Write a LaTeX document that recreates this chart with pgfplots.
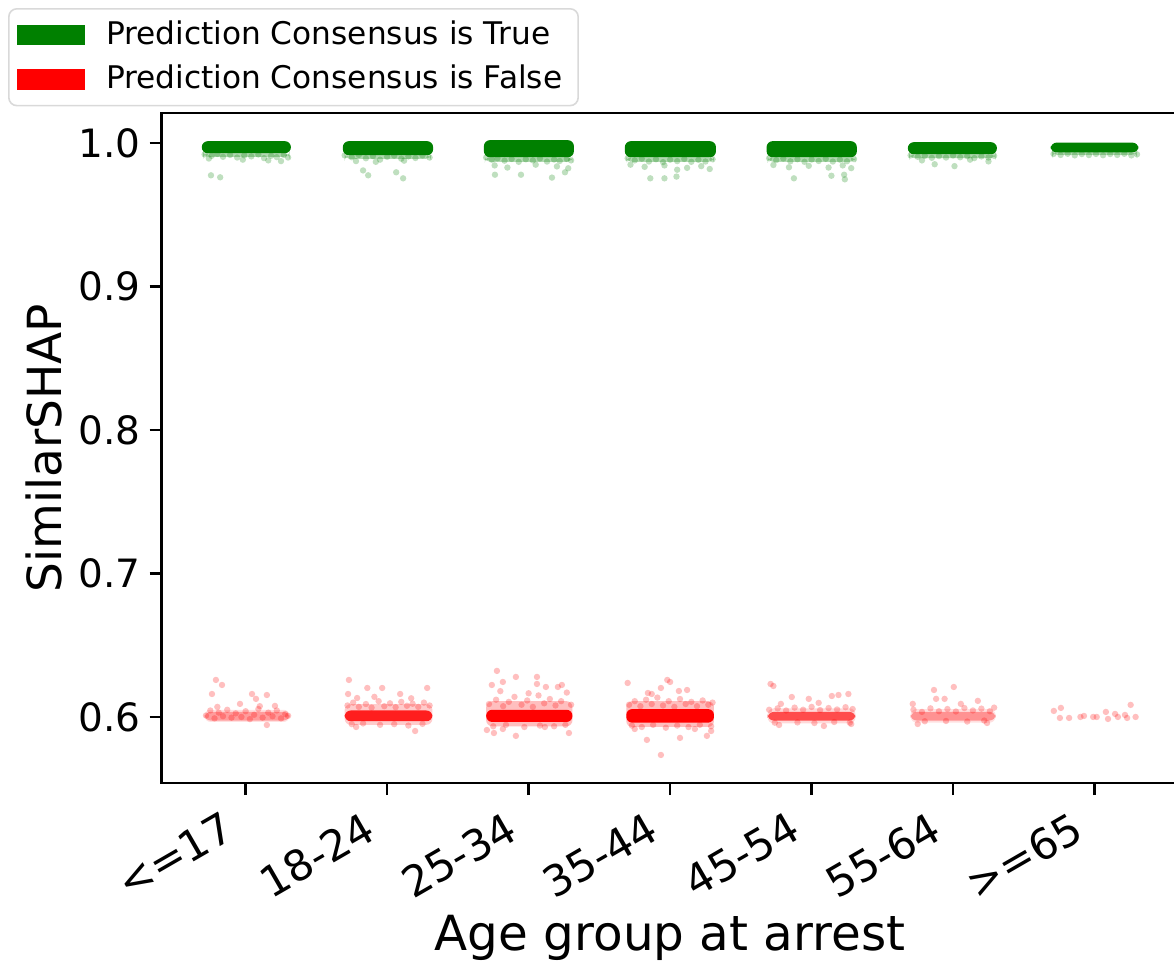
\documentclass[border=0pt]{standalone}
\usepackage{fontspec}
\setmainfont{DejaVu Sans}
\usepackage{pgfplots}
\pgfplotsset{compat=1.18}
\definecolor{mplgreen}{RGB}{0,128,0}
\definecolor{mplred}{RGB}{255,0,0}
\pgfplotsset{
  gscat/.style={only marks, mark=*, mark size=0.8pt, mark options={draw opacity=0, fill=mplgreen, fill opacity=0.25}, forget plot},
  rscat/.style={only marks, mark=*, mark size=0.8pt, mark options={draw opacity=0, fill=mplred, fill opacity=0.25}, forget plot},
  gcore/.style={draw=none, fill=mplgreen, rounded corners=1.5pt, forget plot},
  rcore/.style={draw=none, fill=mplred, rounded corners=1.5pt, forget plot},
}
\begin{document}
\begin{tikzpicture}
\begin{axis}[
  at={(0pt,0pt)}, anchor=south west,
  scale only axis, width=254.25pt, height=167.5pt,
  xmin=-0.594, xmax=6.594, ymin=0.5538, ymax=1.0209,
  xtick={0,1,2,3,4,5,6},
  xticklabels={<=17,18-24,25-34,35-44,45-54,55-64,>=65},
  ytick={0.6,0.7,0.8,0.9,1.0},
  yticklabels={0.6,0.7,0.8,0.9,1.0},
  tick pos=left, tick align=outside, major tick length=3pt,
  every tick/.style={black, line width=0.6pt},
  axis line style={line width=0.6pt},
  xticklabel style={rotate=30, anchor=north east, font=\fontsize{10.6}{11}\selectfont, inner sep=1.5pt, xshift=-5.5pt, yshift=1.5pt},
  yticklabel style={font=\fontsize{9.75}{11}\selectfont, inner sep=2pt},
  xlabel={Age group at arrest},
  ylabel={SimilarSHAP},
  xlabel style={at={(axis description cs:0.5,-0.249)}, anchor=base, font=\fontsize{12.1}{13}\selectfont},
  ylabel style={at={(axis description cs:-0.098,0.5)}, anchor=base, rotate=0, font=\fontsize{11.75}{13}\selectfont},
  legend style={at={(axis description cs:-0.151,1.157)}, anchor=north west,
    draw=black!15, rounded corners=2pt, font=\fontsize{7.8}{9}\selectfont,
    inner xsep=2pt, inner ysep=1pt,
    nodes={text height=6pt, text depth=1.5pt, inner ysep=1.8pt},
    /tikz/every odd column/.append style={column sep=3.3pt}},
  legend cell align=left,
  legend image code/.code={\path[#1, draw=none, sharp corners] (0pt,-2.6pt) rectangle (17pt,2.6pt);},
]
\addlegendimage{fill=mplgreen}
\addlegendentry{Prediction Consensus is True}
\addlegendimage{fill=mplred}
\addlegendentry{Prediction Consensus is False}

% ---------- green cores ----------
\addplot[gcore] coordinates {(-0.31,0.9930) (0.32,0.9930) (0.32,1.0014) (-0.31,1.0014)} -- cycle;
\addplot[gcore] coordinates {(0.687,0.9916) (1.325,0.9916) (1.325,1.0014) (0.687,1.0014)} -- cycle;
\addplot[gcore] coordinates {(1.684,0.9902) (2.32,0.9902) (2.32,1.0021) (1.684,1.0021)} -- cycle;
\addplot[gcore] coordinates {(2.68,0.9902) (3.324,0.9902) (3.324,1.0014) (2.68,1.0014)} -- cycle;
\addplot[gcore] coordinates {(3.682,0.9902) (4.32,0.9902) (4.32,1.0014) (3.682,1.0014)} -- cycle;
\addplot[gcore] coordinates {(4.68,0.9923) (5.31,0.9923) (5.31,1.0007) (4.68,1.0007)} -- cycle;
\addplot[gcore] coordinates {(5.69,0.9935) (6.31,0.9935) (6.31,1.0004) (5.69,1.0004)} -- cycle;
% green translucent under-layer (the thinning edge of each band)
\addplot[gcore, fill opacity=0.3] coordinates {(-0.30,0.9905) (0.31,0.9905) (0.31,0.9932) (-0.30,0.9932)} -- cycle;
\addplot[gcore, fill opacity=0.3] coordinates {(0.70,0.9890) (1.31,0.9890) (1.31,0.9918) (0.70,0.9918)} -- cycle;
\addplot[gcore, fill opacity=0.3] coordinates {(1.69,0.9870) (2.31,0.9870) (2.31,0.9904) (1.69,0.9904)} -- cycle;
\addplot[gcore, fill opacity=0.3] coordinates {(2.69,0.9870) (3.31,0.9870) (3.31,0.9904) (2.69,0.9904)} -- cycle;
\addplot[gcore, fill opacity=0.3] coordinates {(3.69,0.9870) (4.31,0.9870) (4.31,0.9904) (3.69,0.9904)} -- cycle;
\addplot[gcore, fill opacity=0.3] coordinates {(4.69,0.9895) (5.30,0.9895) (5.30,0.9925) (4.69,0.9925)} -- cycle;
\addplot[gcore, fill opacity=0.3] coordinates {(5.70,0.9918) (6.30,0.9918) (6.30,0.9937) (5.70,0.9937)} -- cycle;

% ---------- green scatter ----------
\addplot[gscat] coordinates {
(-0.29,0.9922) (-0.24,0.9912) (-0.2,0.9925) (-0.16,0.9905) (-0.11,0.9918) (-0.06,0.9900) (-0.01,0.9915)
(0.04,0.9908) (0.09,0.9921) (0.13,0.9896) (0.18,0.9912) (0.22,0.9903) (0.27,0.9918) (0.30,0.9900)
(-0.26,0.9893) (-0.02,0.9885) (0.16,0.9880) (0.25,0.9875) (-0.245,0.9776) (-0.18,0.9762)
(0.70,0.9915) (0.75,0.9902) (0.80,0.9918) (0.85,0.9895) (0.90,0.9910) (0.95,0.9885) (1.00,0.9905)
(1.05,0.9913) (1.10,0.9892) (1.15,0.9908) (1.20,0.9897) (1.25,0.9915) (1.30,0.9900) (0.78,0.9875)
(0.92,0.9870) (1.12,0.9878) (0.866,0.9776) (1.064,0.9797) (1.113,0.9755) (0.83,0.9810)
(1.70,0.9900) (1.74,0.9885) (1.78,0.9895) (1.83,0.9878) (1.88,0.9890) (1.93,0.9870) (1.98,0.9888)
(2.03,0.9880) (2.08,0.9893) (2.13,0.9872) (2.18,0.9886) (2.22,0.9876) (2.27,0.9890) (2.30,0.9880)
(1.76,0.9845) (1.85,0.9830) (2.05,0.9850) (2.20,0.9838) (2.28,0.9825) (1.762,0.9780) (1.946,0.9780)
(2.165,0.9760) (2.257,0.9797)
(2.70,0.9895) (2.75,0.9880) (2.80,0.9892) (2.85,0.9872) (2.90,0.9888) (2.95,0.9868) (3.00,0.9885)
(3.05,0.9875) (3.10,0.9890) (3.15,0.9870) (3.20,0.9884) (3.25,0.9872) (3.30,0.9888) (2.72,0.9850)
(2.82,0.9835) (2.96,0.9845) (3.12,0.9828) (3.22,0.9840) (3.28,0.9820) (2.86,0.9755) (2.96,0.9755)
(3.045,0.9767) (3.05,0.9815)
(3.70,0.9895) (3.75,0.9882) (3.80,0.9893) (3.85,0.9874) (3.90,0.9888) (3.95,0.9870) (4.00,0.9886)
(4.05,0.9876) (4.10,0.9891) (4.15,0.9872) (4.20,0.9885) (4.25,0.9874) (4.30,0.9889) (3.73,0.9848)
(3.84,0.9832) (3.98,0.9842) (4.12,0.9830) (4.22,0.9845) (4.28,0.9826) (3.875,0.9755) (4.14,0.9773)
(4.235,0.9748) (4.23,0.9780)
(4.70,0.9915) (4.75,0.9905) (4.80,0.9912) (4.85,0.9898) (4.90,0.9910) (4.95,0.9900) (5.00,0.9914)
(5.05,0.9902) (5.10,0.9910) (5.15,0.9896) (5.20,0.9908) (5.25,0.9900) (5.29,0.9912) (4.87,0.9853)
(5.01,0.9840) (5.25,0.9873) (4.78,0.9880) (5.12,0.9885)
(5.71,0.9925) (5.76,0.9918) (5.81,0.9926) (5.86,0.9915) (5.91,0.9924) (5.96,0.9917) (6.01,0.9925)
(6.06,0.9916) (6.11,0.9924) (6.16,0.9918) (6.21,0.9926) (6.26,0.9915) (6.30,0.9922)
};

% ---------- red halos and cores ----------
\addplot[rcore, fill opacity=0.12] coordinates {(-0.29,0.5965) (0.31,0.5965) (0.31,0.6050) (-0.29,0.6050)} -- cycle;
\addplot[rcore, fill opacity=0.2] coordinates {(0.70,0.5945) (1.32,0.5945) (1.32,0.6090) (0.70,0.6090)} -- cycle;
\addplot[rcore, fill opacity=0.25] coordinates {(1.70,0.5935) (2.31,0.5935) (2.31,0.6110) (1.70,0.6110)} -- cycle;
\addplot[rcore, fill opacity=0.25] coordinates {(2.69,0.5930) (3.31,0.5930) (3.31,0.6110) (2.69,0.6110)} -- cycle;
\addplot[rcore, fill opacity=0.15] coordinates {(3.69,0.5955) (4.31,0.5955) (4.31,0.6060) (3.69,0.6060)} -- cycle;
\addplot[rcore, fill opacity=0.12] coordinates {(4.70,0.5960) (5.30,0.5960) (5.30,0.6055) (4.70,0.6055)} -- cycle;
\addplot[rcore, fill opacity=0.3] coordinates {(-0.29,0.5975) (0.31,0.5975) (0.31,0.6035) (-0.29,0.6035)} -- cycle;
\addplot[rcore, fill opacity=0.85] coordinates {(0.70,0.5970) (1.32,0.5970) (1.32,0.6045) (0.70,0.6045)} -- cycle;
\addplot[rcore, fill opacity=1] coordinates {(1.70,0.5965) (2.31,0.5965) (2.31,0.6050) (1.70,0.6050)} -- cycle;
\addplot[rcore, fill opacity=1] coordinates {(2.69,0.5960) (3.31,0.5960) (3.31,0.6055) (2.69,0.6055)} -- cycle;
\addplot[rcore, fill opacity=0.65] coordinates {(3.69,0.5975) (4.31,0.5975) (4.31,0.6035) (3.69,0.6035)} -- cycle;
\addplot[rcore, fill opacity=0.35] coordinates {(4.70,0.5975) (5.30,0.5975) (5.30,0.6035) (4.70,0.6035)} -- cycle;

% ---------- red scatter ----------
\addplot[rscat] coordinates {
(-0.21,0.6258) (-0.167,0.6223) (-0.238,0.6160) (0.045,0.6160) (0.15,0.6153) (0.073,0.6126) (0.15,0.5944)
(-0.04,0.6091) (0.207,0.6077)
(-0.28,0.6010) (-0.25,0.6045) (-0.22,0.5990) (-0.19,0.6030) (-0.16,0.6005) (-0.13,0.6050) (-0.10,0.5995)
(-0.07,0.6025) (-0.03,0.6000) (0.00,0.6040) (0.03,0.5985) (0.06,0.6015) (0.09,0.6055) (0.12,0.5995)
(0.16,0.6030) (0.19,0.6005) (0.22,0.6045) (0.25,0.5990) (0.28,0.6020) (0.30,0.6008) (-0.20,0.6070) (0.10,0.6075)
(0.73,0.6258) (0.86,0.6202) (0.965,0.6202) (1.283,0.6202) (1.092,0.6160) (0.724,0.6160) (0.788,0.6132)
(0.781,0.5930) (1.198,0.5902)
(0.72,0.6080) (0.76,0.6100) (0.80,0.6070) (0.85,0.6090) (0.89,0.6065) (0.94,0.6110) (0.98,0.6075)
(1.02,0.6095) (1.06,0.6068) (1.10,0.6105) (1.14,0.6078) (1.18,0.6092) (1.22,0.6070) (1.26,0.6100)
(1.30,0.6080) (0.75,0.5950) (0.83,0.5955) (0.95,0.5945) (1.05,0.5950) (1.15,0.5940) (1.25,0.5952)
(0.91,0.6140) (1.17,0.6130)
(1.776,0.6321) (1.91,0.6279) (2.059,0.6279) (1.74,0.6223) (1.818,0.6244) (2.059,0.6230) (2.235,0.6223)
(2.122,0.6209) (2.207,0.6209) (1.91,0.5868) (1.705,0.5909) (1.755,0.5888) (1.818,0.5916) (2.285,0.5888)
(2.115,0.5930)
(1.72,0.6090) (1.77,0.6120) (1.82,0.6075) (1.86,0.6105) (1.90,0.6140) (1.95,0.6085) (1.99,0.6115)
(2.03,0.6070) (2.07,0.6150) (2.11,0.6095) (2.15,0.6125) (2.19,0.6080) (2.23,0.6110) (2.27,0.6170)
(2.30,0.6085) (1.75,0.5935) (1.84,0.5945) (1.97,0.5930) (2.08,0.5940) (2.18,0.5935) (2.26,0.5945)
(1.80,0.6180) (2.00,0.6165)
(2.70,0.6237) (2.98,0.6258) (3.00,0.6244) (2.935,0.6202) (2.843,0.6167) (3.062,0.6181) (3.12,0.6188)
(2.87,0.6160) (2.935,0.5735) (2.836,0.5840) (3.07,0.5854) (3.26,0.5868) (2.75,0.5916) (3.175,0.5916)
(3.29,0.5902)
(2.71,0.6085) (2.75,0.6110) (2.79,0.6075) (2.83,0.6120) (2.87,0.6090) (2.91,0.6135) (2.95,0.6080)
(2.99,0.6110) (3.03,0.6070) (3.07,0.6125) (3.11,0.6090) (3.15,0.6105) (3.19,0.6075) (3.23,0.6115)
(3.27,0.6085) (3.30,0.6100) (2.73,0.5940) (2.80,0.5930) (2.88,0.5945) (2.97,0.5925) (3.05,0.5940)
(3.13,0.5930) (3.21,0.5945) (3.29,0.5935)
(3.71,0.6230) (3.73,0.6216) (3.86,0.6139) (3.98,0.6126) (4.143,0.6146) (4.19,0.6153) (4.26,0.6160)
(3.783,0.6091) (4.05,0.6098) (3.77,0.5944) (4.28,0.5951) (4.087,0.5937)
(3.70,0.6050) (3.76,0.6060) (3.82,0.6045) (3.88,0.6065) (3.94,0.6050) (4.00,0.6070) (4.06,0.6048)
(4.12,0.6062) (4.18,0.6052) (4.24,0.6068) (4.29,0.6055) (3.74,0.5960) (3.90,0.5962) (4.02,0.5958)
(4.16,0.5965) (4.27,0.5960)
(4.865,0.6188) (5.005,0.6209) (4.88,0.6126) (4.94,0.6126) (5.175,0.6112) (4.715,0.6091) (5.055,0.6091)
(4.75,0.5951) (5.24,0.5958)
(4.72,0.6050) (4.78,0.6035) (4.84,0.6060) (4.90,0.6040) (4.96,0.6055) (5.02,0.6038) (5.08,0.6062)
(5.14,0.6045) (5.20,0.6058) (5.26,0.6040) (5.29,0.6065) (4.80,0.5970) (4.95,0.5972) (5.10,0.5968)
(5.22,0.5975)
(5.712,0.6042) (5.762,0.6063) (5.755,0.5993) (5.82,0.5993) (5.90,0.6000) (5.925,0.6007) (5.99,0.6000)
(6.015,0.6000) (6.08,0.6035) (6.095,0.5986) (6.145,0.6021) (6.165,0.6000) (6.215,0.6014) (6.255,0.6084)
(6.29,0.6000) (6.23,0.5993)
};
\end{axis}
\pgfresetboundingbox
\useasboundingbox (-40.4pt,-45.4pt) rectangle (253.1pt,195.8pt);
\end{tikzpicture}
\end{document}
